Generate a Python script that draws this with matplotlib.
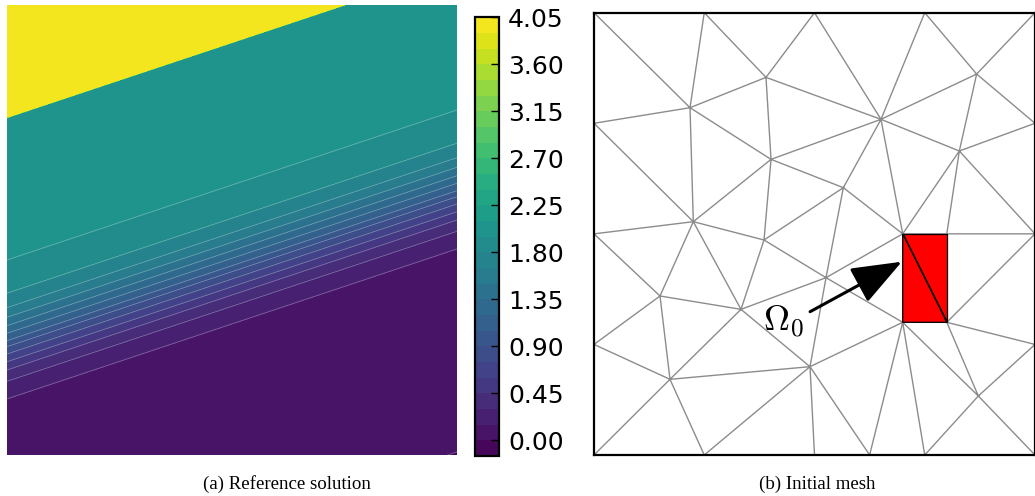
import numpy as np
import matplotlib
matplotlib.use("Agg")
import matplotlib.pyplot as plt
import matplotlib.tri as mtri

plt.rcParams['mathtext.fontset'] = 'cm'

# ---- reference solution: value along s = y - x/3 (lines of slope 1/3) ----
# positions where the filled contours change level, read at the left edge
prof_s = [-0.40, -0.326, 0.1251, 0.1638, 0.1889, 0.2073, 0.2244, 0.2407, 0.2540,
          0.2704, 0.2873, 0.3060, 0.3273, 0.3593, 0.4333, 0.50, 0.7499, 0.7501, 1.2]
prof_u = [-0.005, 0.00, 0.15, 0.30, 0.45, 0.60, 0.75, 0.90, 1.05,
          1.20, 1.35, 1.50, 1.65, 1.80, 1.95, 2.05, 2.05, 4.00, 4.00]
levels = np.arange(-0.15, 4.06, 0.15)
cbar_ticks = np.arange(0.0, 4.06, 0.45)

# ---- initial mesh ----
node_x = [0.0, 0.25, 0.5, 0.75, 1.0,          # top
          0.0, 0.0, 0.0, 0.0,                 # left
          0.25, 0.5, 0.625, 0.75, 1.0,        # bottom
          1.0, 1.0, 1.0,                      # right
          0.2177, 0.390, 0.6508, 0.8677, 0.8284, 0.4014, 0.5654, 0.2252,
          0.70, 0.80, 0.70, 0.80,
          0.3855, 0.5261, 0.1497, 0.3333, 0.4898, 0.1723, 0.8715]
node_y = [1.0, 1.0, 1.0, 1.0, 1.0,
          0.75, 0.5, 0.25, 0.0,
          0.0, 0.0, 0.0, 0.0, 0.0,
          0.75, 0.5, 0.25,
          0.7852, 0.8538, 0.7589, 0.8613, 0.6873, 0.6684, 0.6044, 0.5275,
          0.5, 0.5, 0.3, 0.3,
          0.4861, 0.4009, 0.3595, 0.3293, 0.1997, 0.1711, 0.1334]
# node index names
T0, T1, T2, T3, T4, L1, L2, L3, BL, B1, B2, B3, B4, BR, R1, R2, R3 = range(17)
A, B, C, D, E, F, G, H, I, J, K, L, M, N, O, P, Q, R, S = range(17, 36)
triangles = [
    (T0, T1, A), (T0, A, L1), (T1, B, A), (T1, T2, B), (T2, C, B), (T2, T3, C),
    (T3, D, C), (T3, T4, D), (T4, R1, D),
    (L1, A, H), (A, F, H), (A, B, F), (B, C, F), (C, G, F), (C, I, G), (C, E, I),
    (C, D, E), (D, R1, E), (E, R1, R2), (E, R2, J), (E, J, I),
    (L1, H, L2), (L2, H, O), (H, P, O), (H, M, P), (H, F, M), (F, G, M), (G, N, M),
    (G, I, N), (M, N, P), (N, I, K), (I, J, L), (I, L, K), (J, R2, L), (L, R2, R3),
    (L2, O, L3), (L3, O, R), (O, P, R), (P, Q, R), (P, N, Q), (N, K, Q), (L3, R, BL),
    (BL, R, B1), (R, Q, B1), (B1, Q, B2), (Q, B3, B2), (Q, K, B3), (K, B4, B3),
    (K, S, B4), (K, L, S), (L, R3, S), (S, R3, BR), (S, BR, B4),
]
red_tris = [(I, J, L), (I, L, K)]
arrow_tail = (0.490, 0.324)
arrow_tip = (0.698, 0.437)
label_pos = (0.384, 0.280)

fig = plt.figure(figsize=(10.35, 4.96), dpi=100)

# (a) reference solution
ax1 = fig.add_axes([7/1035, 41/496, 450/1035, 450/496])
xx, yy = np.meshgrid(np.linspace(0, 1, 601), np.linspace(0, 1, 601))
zz = np.interp(yy - xx/3.0, prof_s, prof_u)
cf = ax1.contourf(xx, yy, zz, levels=levels, cmap='viridis')
ax1.contour(xx, yy, zz, levels=levels[(levels > -0.1) & (levels < 2.0)],
            colors='white', linewidths=0.5, alpha=0.35)
ax1.set_xlim(0, 1)
ax1.set_ylim(0, 1)
ax1.axis('off')

cax = fig.add_axes([474.5/1035, 40/496, 24/1035, 438.7/496])
cb = fig.colorbar(cf, cax=cax, ticks=cbar_ticks, format='%.2f')
cb.outline.set_linewidth(1.6)
cax.tick_params(direction='in', length=6, width=1, labelsize=18, pad=7)

# (b) initial mesh
ax2 = fig.add_axes([594/1035, 41/496, 441/1035, 442.3/496])
tri = mtri.Triangulation(node_x, node_y, triangles)
ax2.triplot(tri, color='#8c8c8c', lw=1.0)
nx = np.array(node_x)
ny = np.array(node_y)
for t in red_tris:
    ax2.fill(nx[list(t)], ny[list(t)], facecolor='red', edgecolor='black', lw=0.9, zorder=3)
ax2.annotate('', xy=arrow_tip, xytext=arrow_tail,
             arrowprops=dict(arrowstyle='-|>,head_length=1.3,head_width=0.5',
                             color='black', lw=2.2, mutation_scale=24,
                             shrinkA=0, shrinkB=0), zorder=4)
ax2.text(label_pos[0], label_pos[1], r'$\Omega_0$', fontsize=26, ha='left', va='baseline')
ax2.set_xlim(0, 1)
ax2.set_ylim(0, 1)
ax2.set_xticks([])
ax2.set_yticks([])
for sp in ax2.spines.values():
    sp.set_linewidth(1.6)

fig.text(287/1035, 0.024, '(a) Reference solution', ha='center', va='center',
         family='Liberation Serif', fontsize=13.6)
fig.text(817/1035, 0.024, '(b) Initial mesh', ha='center', va='center',
         family='Liberation Serif', fontsize=13.6)

fig.savefig('out.png', dpi=100)
